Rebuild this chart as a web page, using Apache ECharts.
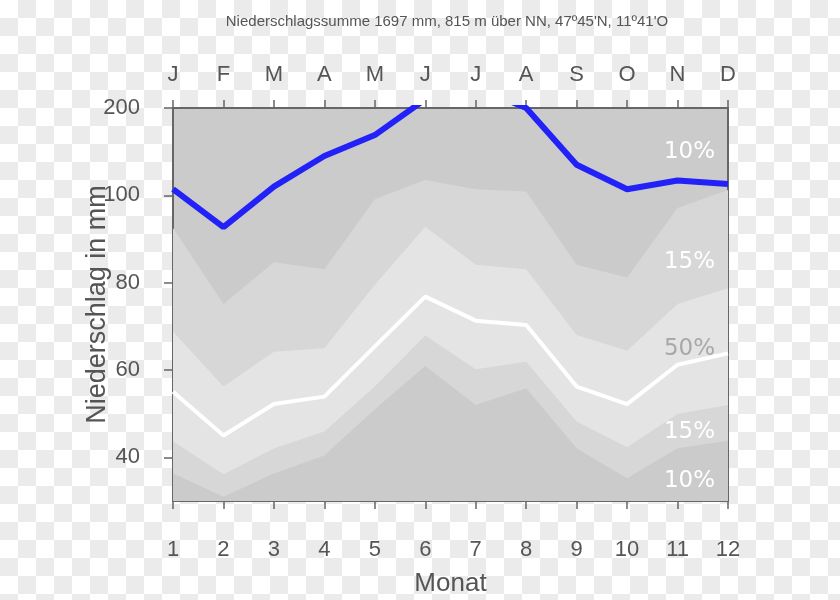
<!DOCTYPE html>
<html>
<head>
<meta charset="utf-8">
<script src="https://cdn.jsdelivr.net/npm/echarts@6/dist/echarts.min.js"></script>
<style>
html,body{margin:0;padding:0;}
body{width:840px;height:600px;background:repeating-conic-gradient(#ebebeb 0 25%, #ffffff 0 50%) 0 0/36px 36px;}
#chart{width:840px;height:600px;}
</style>
</head>
<body>
<div id="chart"></div>
<script>
// Months
var monthNums = ['1','2','3','4','5','6','7','8','9','10','11','12'];
var monthLetters = ['J','F','M','A','M','J','J','A','S','O','N','D'];
// Precipitation quantiles (mm)
var q10 = [36.3, 31.0, 36.3, 40.4, 51.0, 60.9, 52.0, 55.8, 42.1, 35.2, 42.1, 43.8];
var q25 = [43.7, 36.1, 42.0, 45.9, 56.2, 67.9, 60.2, 61.9, 48.2, 42.3, 49.9, 52.0];
var median = [55.0, 45.0, 52.2, 53.9, 65.4, 76.8, 71.3, 70.3, 56.2, 52.2, 61.2, 63.8];
var q75 = [68.8, 56.2, 64.2, 65.0, 79.5, 92.8, 84.1, 83.1, 68.0, 64.4, 75.1, 78.7];
var q90 = [92.5, 75.1, 84.7, 83.1, 99.1, 117.5, 107.0, 104.5, 84.1, 81.2, 97.1, 106.0];
// Mean monthly precipitation (mm)
var mean = [107, 92.7, 110, 145, 169, 210, 224, 200, 135, 107, 117, 113];
// Y tick values (mm)
var yTicks = [40, 60, 80, 100, 200];
var bandLabels = ['10%', '15%', '50%', '15%', '10%'];
var titleText = "Niederschlagssumme 1697 mm, 815 m über NN, 47º45'N, 11º41'O";

// Walter-Lieth scale: above 100 mm compressed by factor 5
function t(v) { return v <= 100 ? v : 100 + (v - 100) / 5; }
function inv(v) { return v <= 100 ? v : 100 + (v - 100) * 5; }

var axisColor = '#666666';
var textColor = '#555555';
var ff = '"Liberation Sans", Arial, sans-serif';

var chart = echarts.init(document.getElementById('chart'), null, {renderer: 'canvas'});

function area(data, color) {
  return {
    type: 'line', data: data.map(t), symbol: 'none', silent: true,
    lineStyle: {width: 0}, areaStyle: {color: color, opacity: 1, origin: 'start'},
    xAxisIndex: 0, yAxisIndex: 0
  };
}

var option = {
  backgroundColor: 'transparent',
  animation: false,
  grid: {left: 173, right: 112, top: 108, bottom: 99, show: true, backgroundColor: '#cbcbcb', borderWidth: 0,
         containLabel: false, outerBoundsMode: 'none'},
  xAxis: [{
    type: 'category', data: monthNums, boundaryGap: false, position: 'bottom',
    axisLine: {lineStyle: {color: axisColor, width: 2}},
    axisTick: {interval: 0, length: 8, lineStyle: {color: axisColor, width: 1.5}},
    axisLabel: {interval: 0, color: textColor, fontSize: 22, margin: 38, fontFamily: ff},
    name: 'Monat', nameLocation: 'middle', nameGap: 70, nameMoveOverlap: false,
    nameTextStyle: {fontSize: 26, color: textColor, fontFamily: ff},
    splitLine: {show: false}
  }, {
    type: 'category', data: monthLetters, boundaryGap: false, position: 'top',
    axisLine: {lineStyle: {color: axisColor, width: 2}},
    axisTick: {interval: 0, length: 8, lineStyle: {color: axisColor, width: 1.5}},
    axisLabel: {interval: 0, color: textColor, fontSize: 22, margin: 22, fontFamily: ff},
    splitLine: {show: false}
  }],
  yAxis: [{
    type: 'value', min: 30, max: 120, position: 'left',
    axisLine: {show: true, lineStyle: {color: axisColor, width: 2}},
    axisTick: {show: true, customValues: yTicks.map(t), length: 9, lineStyle: {color: axisColor, width: 1.5}},
    axisLabel: {customValues: yTicks.map(t), color: textColor, fontSize: 22, margin: 33, fontFamily: ff,
      formatter: function (v) { return String(Math.round(inv(v))); }},
    splitLine: {show: false},
    name: 'Niederschlag in mm', nameLocation: 'middle', nameGap: 62, nameMoveOverlap: false,
    nameTextStyle: {fontSize: 27, color: textColor, fontFamily: ff}
  }, {
    type: 'value', min: 30, max: 120, position: 'right',
    axisLine: {show: true, lineStyle: {color: axisColor, width: 2}},
    axisTick: {show: false}, axisLabel: {show: false}, splitLine: {show: false}
  }],
  series: [
    area(q90, '#d7d7d7'),
    area(q75, '#e4e4e4'),
    area(q25, '#d7d7d7'),
    area(q10, '#cbcbcb'),
    {type: 'line', data: median.map(t), symbol: 'none', silent: true,
     lineStyle: {color: '#ffffff', width: 4}},
    {type: 'line', data: mean.map(t), symbol: 'none', silent: true, clip: true,
     lineStyle: {color: '#2222f8', width: 6}}
  ],
  graphic: [
    {type: 'text', x: 447, y: 22, style: {text: titleText, align: 'center', verticalAlign: 'middle', fill: textColor, font: '15px "Liberation Sans", Arial, sans-serif'}},
    {type: 'text', x: 715, y: 152, z: 100, style: {text: bandLabels[4], align: 'right', verticalAlign: 'middle', fill: '#ffffff', font: '23px "DejaVu Sans", sans-serif'}},
    {type: 'text', x: 715, y: 262, z: 100, style: {text: bandLabels[3], align: 'right', verticalAlign: 'middle', fill: '#ffffff', font: '23px "DejaVu Sans", sans-serif'}},
    {type: 'text', x: 715, y: 349, z: 100, style: {text: bandLabels[2], align: 'right', verticalAlign: 'middle', fill: '#a8a8a8', font: '23px "DejaVu Sans", sans-serif'}},
    {type: 'text', x: 715, y: 432, z: 100, style: {text: bandLabels[1], align: 'right', verticalAlign: 'middle', fill: '#ffffff', font: '23px "DejaVu Sans", sans-serif'}},
    {type: 'text', x: 715, y: 481, z: 100, style: {text: bandLabels[0], align: 'right', verticalAlign: 'middle', fill: '#ffffff', font: '23px "DejaVu Sans", sans-serif'}}
  ]
};
chart.setOption(option);
</script>
</body>
</html>
